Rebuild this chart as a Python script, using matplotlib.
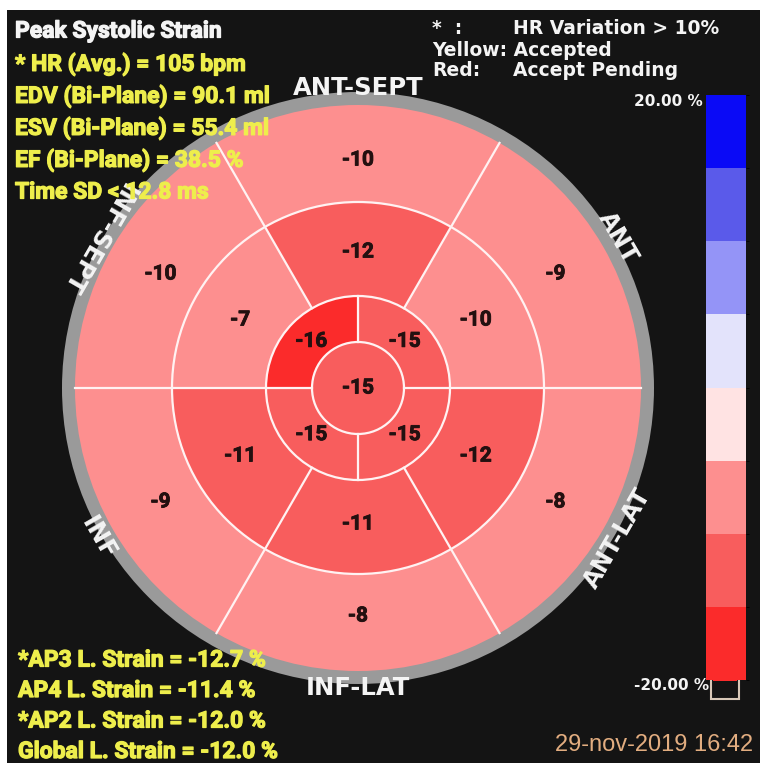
import numpy as np
import matplotlib
matplotlib.use("Agg")
import matplotlib.pyplot as plt
import matplotlib.patheffects as pe
from matplotlib.patches import Wedge, Circle, Rectangle
from matplotlib.colors import ListedColormap, BoundaryNorm
from matplotlib.cm import ScalarMappable

W, H = 760, 763

# peak systolic strain (%) per segment, walls listed clockwise from ANT-SEPT
wall_names = ["ANT-SEPT", "ANT", "ANT-LAT", "INF-LAT", "INF", "INF-SEPT"]
basal_strain = [-10, -9, -8, -8, -9, -10]
mid_strain = [-12, -10, -12, -11, -11, -7]
# apical quadrants clockwise from upper right
apical_strain = [-15, -15, -15, -16]
apex_strain = -15

info_lines = ["* HR (Avg.) = 105 bpm", "EDV (Bi-Plane) = 90.1 ml",
              "ESV (Bi-Plane) = 55.4 ml", "EF (Bi-Plane) = 38.5 %",
              "Time SD < 12.8 ms"]
strain_lines = ["*AP3 L. Strain = -12.7 %", "AP4 L. Strain = -11.4 %",
                "*AP2 L. Strain = -12.0 %", "Global L. Strain = -12.0 %"]

# 8-step strain scale, -20 % (red) to +20 % (blue)
scale_bounds = [-20, -15, -10, -5, 0, 5, 10, 15, 20]
scale_colors = ["#fb2b2b", "#f85d5d", "#fd8f8f", "#ffe3e3",
                "#e3e3fb", "#9494f7", "#5a5aea", "#0a0af6"]
cmap = ListedColormap(scale_colors)
norm = BoundaryNorm(scale_bounds, cmap.N)

YELLOW = "#eeee4c"
WHITE = "#f4f4f4"
BG = "#141414"


def heavy(color, w=0.9):
    # thicken the glyph strokes a little
    return [pe.withStroke(linewidth=w, foreground=color)]


fig = plt.figure(figsize=(W / 100, H / 100), dpi=100, facecolor="white")
ax = fig.add_axes([0, 0, 1, 1])
ax.set_xlim(0, W)
ax.set_ylim(H, 0)
ax.set_axis_off()
ax.add_patch(Rectangle((7, 10), W, H, facecolor=BG, edgecolor="none", zorder=0))

cx, cy = 358, 388
r_apex, r_apical, r_mid, r_basal, r_rim = 46, 92, 186, 283, 296


def wedge(r_out, r_in, a0, a1, color):
    # angles are counter-clockwise on screen; the y axis is flipped
    return Wedge((cx, cy), r_out, -a1, -a0, width=r_out - r_in,
                 facecolor=color, edgecolor="none", zorder=2)


ax.add_patch(Circle((cx, cy), r_rim, facecolor="#9a9a9a", edgecolor="none", zorder=1))

for i, (vb, vm) in enumerate(zip(basal_strain, mid_strain)):
    mid_ang = 90 - 60 * i
    ax.add_patch(wedge(r_basal, r_mid, mid_ang - 30, mid_ang + 30, cmap(norm(vb))))
    ax.add_patch(wedge(r_mid, r_apical, mid_ang - 30, mid_ang + 30, cmap(norm(vm))))
for i, va in enumerate(apical_strain):
    mid_ang = 45 - 90 * i
    ax.add_patch(wedge(r_apical, r_apex, mid_ang - 45, mid_ang + 45, cmap(norm(va))))
ax.add_patch(Circle((cx, cy), r_apex, facecolor=cmap(norm(apex_strain)),
                    edgecolor="none", zorder=2))

# segment borders
line_kw = dict(color="#fff2f2", lw=1.6, zorder=3)
for r in (r_apex, r_apical, r_mid):
    ax.add_patch(Circle((cx, cy), r, fill=False, **line_kw))
for ang in range(0, 360, 60):
    t = np.deg2rad(ang)
    ax.plot([cx + r_apical * np.cos(t), cx + r_basal * np.cos(t)],
            [cy - r_apical * np.sin(t), cy - r_basal * np.sin(t)], **line_kw)
for ang in range(0, 360, 90):
    t = np.deg2rad(ang)
    ax.plot([cx + r_apex * np.cos(t), cx + r_apical * np.cos(t)],
            [cy - r_apex * np.sin(t), cy - r_apical * np.sin(t)], **line_kw)

# segment values
NUM_COLOR = "#231010"
num_kw = dict(ha="center", va="center", fontsize=15, color=NUM_COLOR,
              family="Roboto", fontweight="bold", zorder=4,
              path_effects=heavy(NUM_COLOR, 0.6))


def polar_text(r, ang, s, **kw):
    t = np.deg2rad(ang)
    ax.text(cx + r * np.cos(t), cy - r * np.sin(t), s, **kw)


for i, (vb, vm) in enumerate(zip(basal_strain, mid_strain)):
    polar_text(228, 90 - 60 * i, f"{vb}", **num_kw)
    polar_text(136, 90 - 60 * i, f"{vm}", **num_kw)
for i, va in enumerate(apical_strain):
    polar_text(66, 45 - 90 * i, f"{va}", **num_kw)
polar_text(0, 0, f"{apex_strain}", **num_kw)

# wall names around the rim
for i, name in enumerate(wall_names):
    ang = 90 - 60 * i
    rot = ang - 90
    if rot < -90:
        rot += 180
    if rot > 90:
        rot -= 180
    polar_text(300, ang, name, ha="center", va="center", rotation=rot,
               rotation_mode="anchor", fontsize=17.5, color=WHITE,
               family="DejaVu Sans", fontweight="bold", zorder=5)

# measurement text
txt_kw = dict(ha="left", va="center", family="Roboto", fontweight="bold",
              fontsize=16.5, zorder=6)
ax.text(15, 31, "Peak Systolic Strain", color=WHITE,
        path_effects=heavy(WHITE), **txt_kw)
for k, line in enumerate(info_lines):
    ax.text(15, 64 + 32 * k, line, color=YELLOW,
            path_effects=heavy(YELLOW), **txt_kw)
for k, line in enumerate(strain_lines):
    ax.text(18, 660 + 30.5 * k, line, color=YELLOW,
            path_effects=heavy(YELLOW), **txt_kw)

hdr_kw = dict(ha="left", va="center", family="DejaVu Sans", fontweight="bold",
              fontsize=13.5, color=WHITE, zorder=6)
ax.text(432, 29, "*  :", **hdr_kw)
ax.text(513, 29, "HR Variation > 10%", **hdr_kw)
ax.text(432, 50, "Yellow: Accepted", **hdr_kw)
ax.text(432, 71, "Red:", **hdr_kw)
ax.text(513, 71, "Accept Pending", **hdr_kw)

ax.text(555, 745, "29-nov-2019 16:42", ha="left", va="center",
        family="Liberation Sans", fontsize=17, color="#e2ad80", zorder=6)

# colour scale
cax = fig.add_axes([706 / W, 1 - 680 / H, 40 / W, 585 / H])
cb = fig.colorbar(ScalarMappable(norm=norm, cmap=cmap), cax=cax, ticks=[])
cb.outline.set_visible(False)
ax.text(703, 101, "20.00 %", ha="right", va="center", family="DejaVu Sans",
        fontweight="bold", fontsize=11, color=WHITE)
ax.text(709, 686, "-20.00 %", ha="right", va="center", family="DejaVu Sans",
        fontweight="bold", fontsize=11, color=WHITE)
ax.add_patch(Rectangle((711, 673), 28, 26, facecolor=BG, edgecolor="#d8c8b8",
                       lw=1.5, zorder=6))
ax.add_patch(Rectangle((713, 675), 24, 6, facecolor=scale_colors[0],
                       edgecolor="none", zorder=7))

fig.savefig("out.png", dpi=100, facecolor=fig.get_facecolor())
